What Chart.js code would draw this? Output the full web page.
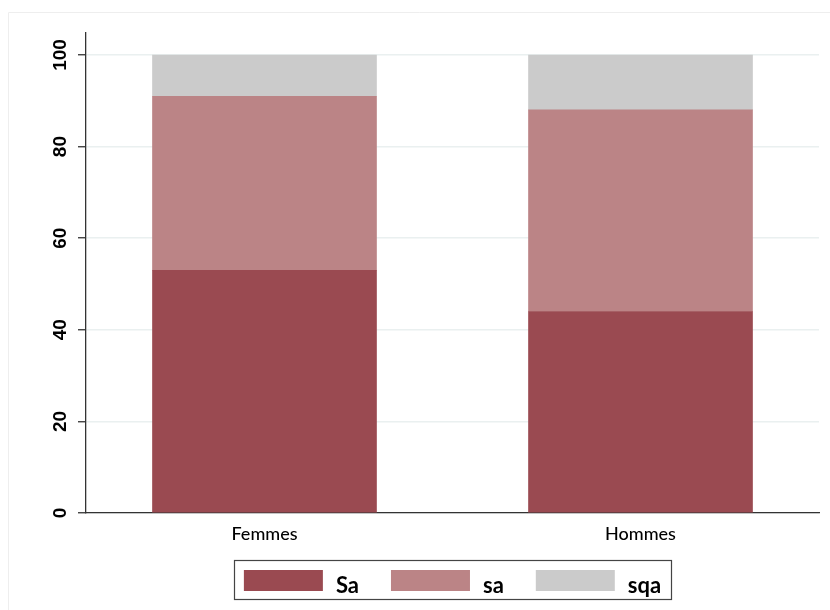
<!DOCTYPE html>
<html>
<head>
<meta charset="utf-8">
<script src="https://cdn.jsdelivr.net/npm/chart.js@4/dist/chart.umd.min.js"></script>
<style>
html,body{margin:0;padding:0;background:#fff;}
#wrap{width:830px;height:610px;position:relative;}
</style>
</head>
<body>
<div id="wrap"><canvas id="c" width="830" height="610"></canvas></div>
<script>
// ---- data ----
const categories = ['Femmes', 'Hommes'];
const seriesNames = ['Sa', 'sa', 'sqa'];
const valuesSaUpper = [53, 44];
const valuesSaLower = [38, 44];
const valuesSqa = [9, 12];
const yTickValues = [0, 20, 40, 60, 80, 100];
const seriesColors = ['#9a4a51', '#bb8486', '#cbcbcb'];

const seriesValues = [valuesSaUpper, valuesSaLower, valuesSqa];

const datasets = seriesNames.map((name, s) => ({
  label: name,
  data: categories.map((c, i) => ({ x: i, y: seriesValues[s][i] })),
  backgroundColor: seriesColors[s],
  borderWidth: 0,
  barThickness: 224
}));

const framePlugin = {
  id: 'frame',
  beforeDraw(chart) {
    const ctx = chart.ctx;
    ctx.save();
    ctx.fillStyle = '#ffffff';
    ctx.fillRect(0, 0, chart.width, chart.height);
    ctx.strokeStyle = '#eeeeee';
    ctx.lineWidth = 1;
    ctx.beginPath();
    ctx.moveTo(8.5, chart.height);
    ctx.lineTo(8.5, 12.5);
    ctx.lineTo(chart.width, 12.5);
    ctx.stroke();
    ctx.restore();
  }
};

const yLabelPlugin = {
  id: 'yLabels',
  afterDraw(chart) {
    const ctx = chart.ctx;
    const ys = chart.scales.y;
    ctx.save();
    ctx.fillStyle = '#000';
    ctx.font = 'bold 19px "Liberation Sans", Arial, sans-serif';
    ctx.textAlign = 'center';
    ctx.textBaseline = 'middle';
    yTickValues.forEach(v => {
      const py = ys.getPixelForValue(v);
      ctx.save();
      ctx.translate(61, py);
      ctx.rotate(-Math.PI / 2);
      ctx.fillText(String(v), 0, 0);
      ctx.restore();
    });
    ctx.restore();
  }
};

const legendBoxPlugin = {
  id: 'legendBox',
  afterDraw(chart) {
    const ctx = chart.ctx;
    ctx.save();
    ctx.font = 'bold 22px Lato, "Open Sans", sans-serif';
    const sw = 79, sh = 21, gapText = 13, gapItem = 32, padX = 10;
    const items = chart.data.datasets.map(d => ({
      label: d.label, color: d.backgroundColor, w: ctx.measureText(d.label).width
    }));
    const total = items.reduce((a, it) => a + sw + gapText + it.w, 0) + gapItem * (items.length - 1);
    const ca = chart.chartArea;
    const cx = (ca.left + ca.right) / 2;
    let x = cx - total / 2;
    const boxTop = 560.5, boxBottom = 599.5;
    ctx.strokeStyle = '#444';
    ctx.lineWidth = 1.2;
    ctx.strokeRect(Math.round(x - padX) + 0.5, boxTop, Math.round(total + 2 * padX), boxBottom - boxTop);
    ctx.textBaseline = 'alphabetic';
    ctx.textAlign = 'left';
    items.forEach(it => {
      ctx.fillStyle = it.color;
      ctx.fillRect(x, 570, sw, sh);
      ctx.fillStyle = '#000';
      ctx.fillText(it.label, x + sw + gapText, 593);
      x += sw + gapText + it.w + gapItem;
    });
    ctx.restore();
  }
};

function draw() {
  new Chart(document.getElementById('c'), {
    type: 'bar',
    data: { datasets },
    plugins: [framePlugin, yLabelPlugin, legendBoxPlugin],
    options: {
      responsive: false,
      animation: false,
      devicePixelRatio: 1,
      layout: { padding: { top: 33, right: 11, left: 0, bottom: 0 } },
      plugins: { legend: { display: false }, tooltip: { enabled: false } },
      scales: {
        x: {
          type: 'linear',
          stacked: true,
          offset: false,
          min: -0.4747,
          max: 1.4747,
          afterBuildTicks: s => { s.ticks = categories.map((c, i) => ({ value: i })); },
          afterFit: s => { s.height = 97; },
          ticks: {
            callback: v => categories[v] !== undefined ? categories[v] : '',
            font: { family: 'Lato, "Open Sans", sans-serif', size: 18, weight: '500' },
            color: '#000',
            padding: 10,
            maxRotation: 0,
            autoSkip: false
          },
          grid: { display: false, drawTicks: false, offset: false },
          border: { display: true, color: '#333', width: 1.3 }
        },
        y: {
          stacked: true,
          min: 0,
          max: 104.8,
          afterBuildTicks: s => { s.ticks = yTickValues.map(v => ({ value: v })); },
          afterFit: s => { s.width = 86; },
          ticks: { display: false },
          grid: {
            color: '#eaf0f0',
            lineWidth: 1.5,
            drawTicks: true,
            tickLength: 8,
            tickColor: '#333',
            tickWidth: 1.3
          },
          border: { display: true, color: '#333', width: 1.3 }
        }
      }
    }
  });
}

if (document.fonts && document.fonts.load) {
  Promise.all([
    document.fonts.load('bold 22px Lato'),
    document.fonts.load('500 18px Lato'),
    document.fonts.load('bold 19px "Liberation Sans"')
  ]).then(draw, draw);
} else {
  draw();
}
</script>
</body>
</html>
